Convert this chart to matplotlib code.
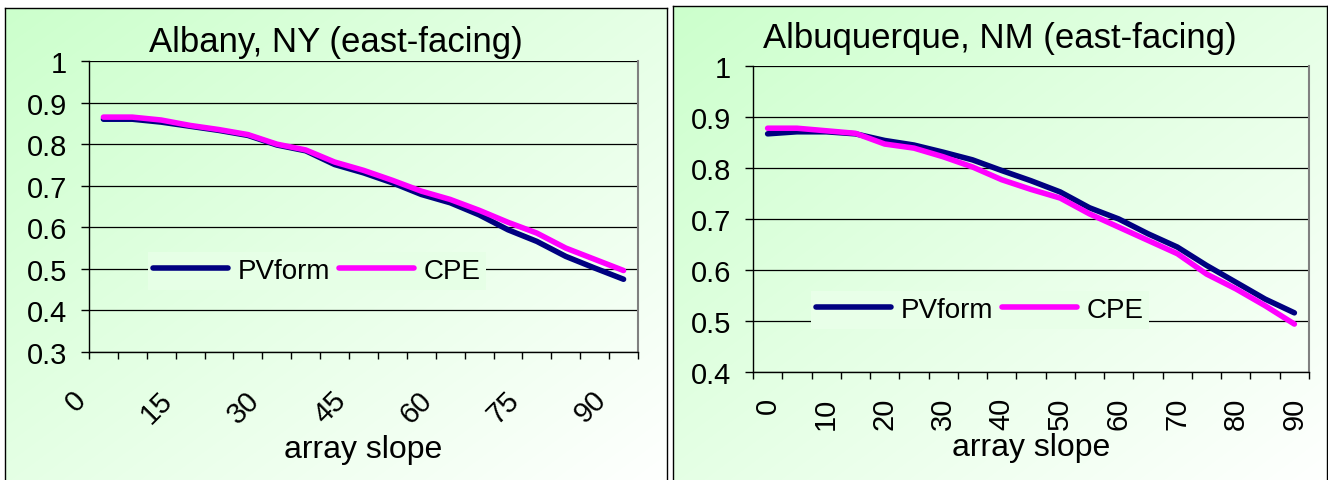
import numpy as np
import matplotlib
matplotlib.use("Agg")
import matplotlib.pyplot as plt
from matplotlib.transforms import blended_transform_factory, ScaledTranslation

# Array slope categories (degrees)
slopes = list(range(0, 91, 5))

# Albany, NY (east-facing)
albany_pvform = [0.860, 0.860, 0.853, 0.843, 0.833, 0.821, 0.798, 0.784, 0.751, 0.731,
                 0.707, 0.679, 0.659, 0.630, 0.594, 0.566, 0.530, 0.502, 0.475]
albany_cpe = [0.865, 0.865, 0.858, 0.845, 0.835, 0.823, 0.800, 0.786, 0.757, 0.737,
              0.713, 0.687, 0.667, 0.641, 0.612, 0.586, 0.550, 0.523, 0.496]

# Albuquerque, NM (east-facing)
albq_pvform = [0.867, 0.871, 0.871, 0.867, 0.854, 0.845, 0.831, 0.816, 0.795, 0.775,
               0.753, 0.722, 0.700, 0.671, 0.645, 0.609, 0.576, 0.543, 0.516]
albq_cpe = [0.878, 0.878, 0.873, 0.868, 0.847, 0.839, 0.822, 0.802, 0.777, 0.758,
            0.741, 0.710, 0.684, 0.658, 0.632, 0.592, 0.563, 0.530, 0.494]

series_names = ["PVform", "CPE"]
titles = ["Albany, NY (east-facing)", "Albuquerque, NM (east-facing)"]
x_title = "array slope"

plt.rcParams['font.family'] = ['Liberation Sans', 'DejaVu Sans']

W, H = 1328, 481
fig = plt.figure(figsize=(W / 100, H / 100), dpi=100)
fig.patch.set_facecolor('white')

NAVY = '#000080'
MAGENTA = '#FF00FF'
GREEN = np.array([204, 255, 204]) / 255.0


def px_box(x0, y0, x1, y1):
    """Pixel box (top-left origin) -> figure fraction rectangle."""
    return [x0 / W, 1 - y1 / H, (x1 - x0) / W, (y1 - y0) / H]


def shade(u, v):
    t = (u + v) / 2.0
    return GREEN + (1 - GREEN) * t


def panel_background(box):
    bg = fig.add_axes(px_box(*box), zorder=0)
    n = 300
    u = np.linspace(0, 1, n)
    U, V = np.meshgrid(u, u)
    img = shade(U[..., None], V[..., None])
    bg.imshow(img, extent=(0, 1, 0, 1), aspect='auto', origin='upper',
              interpolation='bilinear')
    bg.set_xticks([])
    bg.set_yticks([])
    for s in bg.spines.values():
        s.set_color('black')
        s.set_linewidth(1.0)
    return bg


def panel_color(box, px, py):
    x0, y0, x1, y1 = box
    return shade((px - x0) / (x1 - x0), (py - y0) / (y1 - y0))


def draw_chart(panel, plot_box, pv, cpe, ymin, title, title_base,
               label_step, rotated45, legend_center, xlabel_base):
    panel_background(panel)
    ax = fig.add_axes(px_box(*plot_box), zorder=2)
    ax.patch.set_visible(False)

    x = np.arange(len(slopes))
    ax.plot(x, pv, color=NAVY, lw=4.0, solid_capstyle='round',
            solid_joinstyle='round', label=series_names[0], zorder=3)
    ax.plot(x, cpe, color=MAGENTA, lw=4.0, solid_capstyle='round',
            solid_joinstyle='round', label=series_names[1], zorder=4)

    ax.set_xlim(-0.5, len(slopes) - 0.5)
    ax.set_ylim(ymin, 1.0)
    yt = np.round(np.arange(ymin, 1.0001, 0.1), 1)
    ax.set_yticks(yt)
    ax.set_yticklabels([f"{v:g}" for v in yt])
    ax.yaxis.grid(True, color='black', lw=0.9)
    ax.set_axisbelow(True)
    ax.tick_params(axis='y', direction='out', length=6, width=1, pad=10,
                   labelsize=21, colors='black')

    # category boundary tick marks
    ax.set_xticks(np.arange(-0.5, len(slopes)), minor=True)
    ax.tick_params(axis='x', which='minor', direction='out', length=5, width=1)

    pos = x[::label_step]
    labs = [str(slopes[i]) for i in pos]
    if rotated45:
        ax.set_xticks([])
        trans = blended_transform_factory(ax.transData, ax.transAxes) + \
            ScaledTranslation(-22 / 100, -43 / 100, fig.dpi_scale_trans)
        for p, lab in zip(pos, labs):
            ax.text(p, 0, lab, transform=trans, rotation=45,
                    rotation_mode='anchor', ha='right', va='center',
                    fontsize=21)
    else:
        ax.set_xticks(pos)
        ax.set_xticklabels(labs)
        ax.tick_params(axis='x', which='major', length=0, pad=18,
                       labelsize=21, labelrotation=90)

    for side in ('left', 'bottom'):
        ax.spines[side].set_color('black')
        ax.spines[side].set_linewidth(1.0)
    ax.spines['top'].set_visible(False)
    ax.spines['right'].set_color('#808080')
    ax.spines['right'].set_linewidth(1.5)

    cx, cy = legend_center
    leg = ax.legend(loc='center', bbox_to_anchor=(cx / W, 1 - cy / H),
                    bbox_transform=fig.transFigure, ncol=2, frameon=True,
                    fancybox=False, fontsize=20, handlelength=2.7,
                    handletextpad=0.35, columnspacing=0.3, borderpad=0.2,
                    borderaxespad=0)
    fr = leg.get_frame()
    fr.set_facecolor(panel_color(panel, cx, cy))
    fr.set_edgecolor('none')
    fr.set_alpha(1)

    pcx = (panel[0] + panel[2]) / 2
    fig.text(pcx / W, 1 - title_base / H, title, ha='center', va='baseline',
             fontsize=25, zorder=5)
    acx = (plot_box[0] + plot_box[2]) / 2
    fig.text(acx / W, 1 - xlabel_base / H, x_title, ha='center',
             va='baseline', fontsize=23, zorder=5)
    return ax


draw_chart(panel=(5, 9, 667, 495), plot_box=(89, 62, 638, 353),
           pv=albany_pvform, cpe=albany_cpe, ymin=0.3,
           title=titles[0], title_base=52, label_step=3, rotated45=True,
           legend_center=(317, 272), xlabel_base=458)

draw_chart(panel=(673, 7, 1327, 495), plot_box=(753, 67, 1309, 373),
           pv=albq_pvform, cpe=albq_cpe, ymin=0.4,
           title=titles[1], title_base=48, label_step=2, rotated45=False,
           legend_center=(980, 311), xlabel_base=456)

fig.savefig("out.png", dpi=100, facecolor='white')
